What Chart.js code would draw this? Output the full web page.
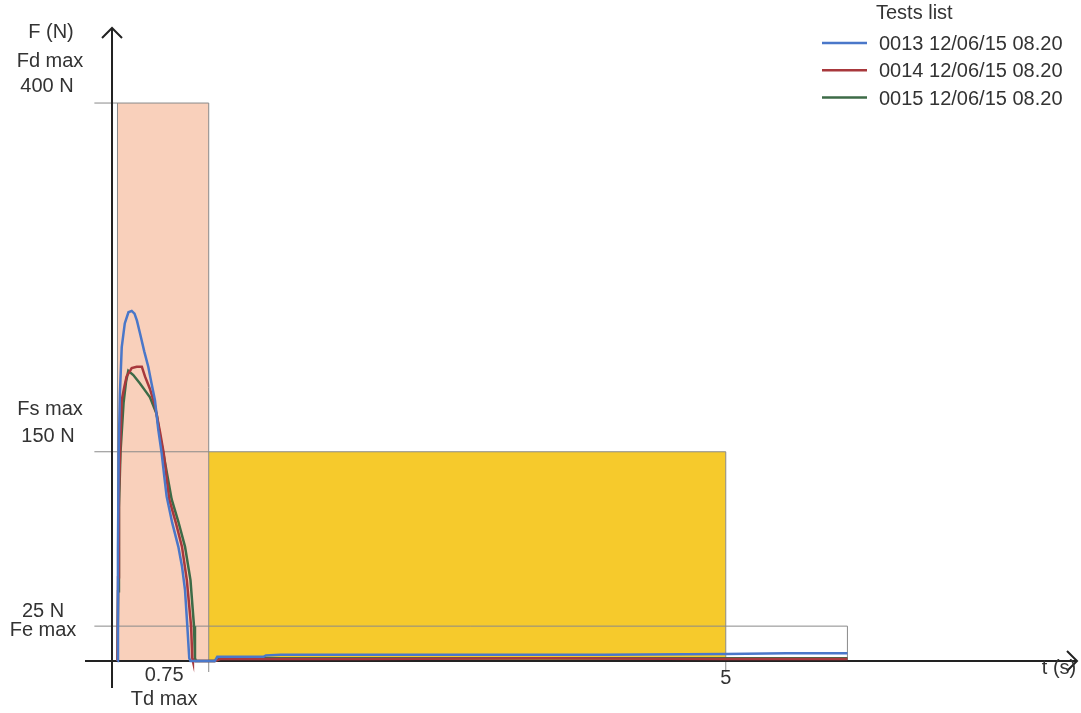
<!DOCTYPE html>
<html>
<head>
<meta charset="utf-8">
<script src="https://cdn.jsdelivr.net/npm/chart.js@4.4.1/dist/chart.umd.min.js"></script>
<style>
  html, body { margin: 0; padding: 0; background: #fff; }
  #wrap { width: 1081px; height: 713px; }
</style>
</head>
<body>
<div id="wrap"><canvas id="myChart" width="1081" height="713"></canvas></div>
<script>
// test curves, time (s) and force (N)
var t0013 = [0, 0.004, 0.01, 0.02, 0.035, 0.06, 0.09, 0.117, 0.14, 0.16, 0.185, 0.22, 0.253, 0.28, 0.308, 0.335, 0.363, 0.385, 0.404, 0.45, 0.5, 0.53, 0.555, 0.574, 0.59, 0.6, 0.8, 0.82, 1.2, 1.22, 1.34, 2.5, 4.0, 5.0, 5.5, 6.0];
var f0013 = [0, 80, 150, 192, 225, 242, 250, 251, 249, 244, 235, 222, 211, 199, 187, 166, 149, 132, 118, 99, 82, 68, 51, 25, 2, 0, 0, 3, 3, 4, 4.5, 4.5, 4.5, 5, 5.5, 5.5];

var t0014 = [0, 0.005, 0.012, 0.025, 0.035, 0.055, 0.075, 0.117, 0.158, 0.2, 0.226, 0.267, 0.308, 0.35, 0.38, 0.425, 0.48, 0.53, 0.57, 0.605, 0.615, 0.62, 0.8, 0.85, 2.0, 3.5, 5.0, 6.0];
var f0014 = [0, 60, 120, 160, 187, 196, 204, 210, 211, 211, 204, 195, 183, 164, 149, 116, 99, 82, 58, 25, 2, 0, 0, 1.5, 1.5, 2, 1.5, 1.5];

var t0015 = [0, 0.005, 0.012, 0.025, 0.05, 0.07, 0.089, 0.13, 0.185, 0.226, 0.267, 0.322, 0.35, 0.377, 0.445, 0.5, 0.555, 0.6, 0.629, 0.637, 0.645, 0.8, 0.85, 2.0, 4.0, 6.0];
var f0015 = [0, 50, 110, 150, 185, 200, 208, 205, 199, 194, 189, 177, 161, 149, 116, 100, 82, 58, 25, 2, 0, 0, 2, 2, 2, 2];

var testLabels = ["0013 12/06/15 08.20", "0014 12/06/15 08.20", "0015 12/06/15 08.20"];
var testColors = ["#4a77c9", "#a8383c", "#3d6b47"];

// limit zones
var tdMax = 0.75, fdMax = 400;   // dynamic force zone
var tsMax = 5, fsMax = 150;      // static force zone
var teMax = 6, feMax = 25;       // end force zone

var xTicks = [tdMax, tsMax];
var xTickLabels = [["0.75", "Td max"], ["5", ""]];

function pts(t, f) {
    return t.map(function(v, i) { return { x: v, y: f[i] }; });
}

var zonesPlugin = {
    id: 'zones',
    beforeDatasetsDraw: function(chart) {
        var c = chart.ctx, xs = chart.scales.x, ys = chart.scales.y;
        var X = function(v) { return xs.getPixelForValue(v); };
        var Y = function(v) { return ys.getPixelForValue(v); };
        var lx = X(-0.19);
        c.save();
        // filled zones
        c.fillStyle = '#f9d0bb';
        c.fillRect(X(0), Y(fdMax), X(tdMax) - X(0), Y(0) - Y(fdMax));
        c.fillStyle = '#f6ca2c';
        c.fillRect(X(tdMax), Y(fsMax), X(tsMax) - X(tdMax), Y(0) - Y(fsMax));
        // outlines and reference lines
        c.strokeStyle = '#8a8a8a';
        c.lineWidth = 1;
        c.beginPath();
        c.moveTo(lx, Y(fdMax)); c.lineTo(X(tdMax), Y(fdMax));
        c.moveTo(lx, Y(fsMax)); c.lineTo(X(tsMax), Y(fsMax));
        c.moveTo(lx, Y(feMax)); c.lineTo(X(teMax), Y(feMax));
        c.moveTo(X(0), Y(fdMax)); c.lineTo(X(0), Y(0));
        c.moveTo(X(tdMax), Y(fdMax)); c.lineTo(X(tdMax), Y(0) + 11);
        c.moveTo(X(tsMax), Y(fsMax)); c.lineTo(X(tsMax), Y(0) + 11);
        c.moveTo(X(teMax), Y(feMax)); c.lineTo(X(teMax), Y(0));
        c.stroke();

        // axes with arrows
        var a = chart.chartArea;
        var ax = X(-0.045), ay = Y(0);
        c.strokeStyle = '#222';
        c.lineWidth = 2;
        c.beginPath();
        c.moveTo(ax, a.bottom); c.lineTo(ax, a.top);
        c.moveTo(ax - 10, a.top + 10); c.lineTo(ax, a.top); c.lineTo(ax + 10, a.top + 10);
        c.moveTo(a.left, ay); c.lineTo(a.right, ay);
        c.moveTo(a.right - 10, ay - 10); c.lineTo(a.right, ay); c.lineTo(a.right - 10, ay + 10);
        c.stroke();

        // axis texts
        c.fillStyle = '#333';
        c.font = '20px "Liberation Sans", Arial, sans-serif';
        c.textAlign = 'center';
        c.textBaseline = 'alphabetic';
        c.fillText('F (N)', 51, a.top + 10);
        c.fillText('Fd max', 50, Y(fdMax) - 36);
        c.fillText('400 N', 47, Y(fdMax) - 11);
        c.fillText('Fs max', 50, Y(fsMax) - 37);
        c.fillText('150 N', 48, Y(fsMax) - 10);
        c.fillText('25 N', 43, Y(feMax) - 9);
        c.fillText('Fe max', 43, Y(feMax) + 10);
        xTicks.forEach(function(v, i) {
            var px = i === 0 ? (X(0) + X(v)) / 2 + 1 : X(v);
            c.fillText(xTickLabels[i][0], px, ay + 20 + i * 3);
            if (xTickLabels[i][1]) c.fillText(xTickLabels[i][1], px, ay + 44);
        });
        c.fillText('t (s)', 1059, ay + 13);

        // legend
        c.textAlign = 'left';
        c.fillText('Tests list', 876, 19);
        chart.data.datasets.forEach(function(ds, i) {
            var ly = 43 + i * 27.3;
            c.strokeStyle = ds.borderColor;
            c.lineWidth = 2.5;
            c.beginPath();
            c.moveTo(822, ly); c.lineTo(867, ly);
            c.stroke();
            c.fillText(ds.label, 879, ly + 7);
        });
        c.restore();
    }
};

var myChart;
var loadChart = function() {
    var ctx = document.getElementById('myChart');
    var series = [[t0013, f0013], [t0014, f0014], [t0015, f0015]];

    myChart = new Chart(ctx, {
        type: 'line',
        data: {
            datasets: series.map(function(s, i) {
                return {
                    label: testLabels[i],
                    data: pts(s[0], s[1]),
                    borderColor: testColors[i],
                    borderWidth: 2.5,
                    pointRadius: 0,
                    fill: false,
                    tension: 0
                };
            })
        },
        options: {
            responsive: false,
            animation: false,
            layout: { padding: { left: 85, right: 4, top: 28, bottom: 25 } },
            plugins: { legend: { display: false }, tooltip: { enabled: false } },
            scales: {
                x: { type: 'linear', display: false, min: -0.267, max: 7.887 },
                y: { type: 'linear', display: false, min: -19.35, max: 453.8 }
            }
        },
        plugins: [zonesPlugin]
    });
};
loadChart();
</script>
</body>
</html>
